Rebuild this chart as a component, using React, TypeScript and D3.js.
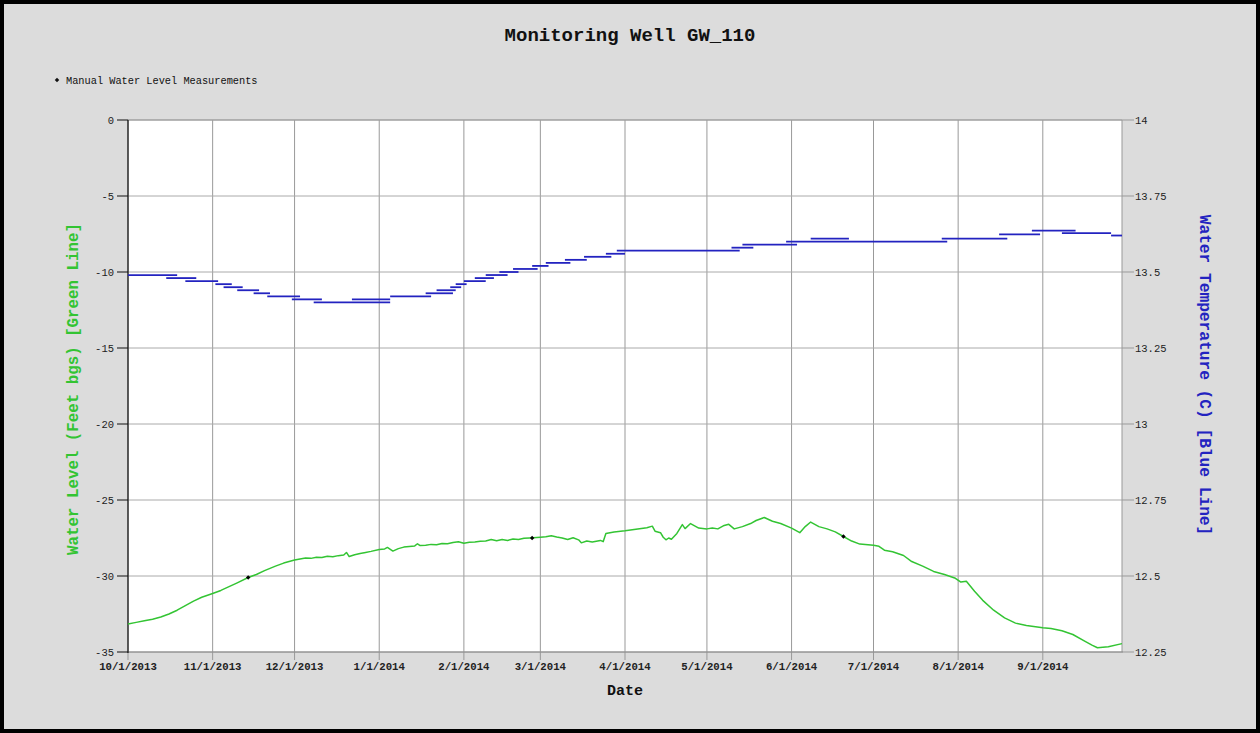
import React from "react";
import * as d3 from "d3";

const TITLE = "Monitoring Well GW_110";
const LEGEND_LABEL = "Manual Water Level Measurements";
const X_LABEL = "Date";
const Y_LEFT_LABEL = "Water Level (Feet bgs) [Green Line]";
const Y_RIGHT_LABEL = "Water Temperature (C) [Blue Line]";

const xTickDates = ["2013-10-01","2013-11-01","2013-12-01","2014-01-01","2014-02-01","2014-03-01","2014-04-01","2014-05-01","2014-06-01","2014-07-01","2014-08-01","2014-09-01"];
const leftTicks = [0, -5, -10, -15, -20, -25, -30, -35];
const rightTicks = [14, 13.75, 13.5, 13.25, 13, 12.75, 12.5, 12.25];

const levelDates = [
  "2013-10-01","2013-10-04","2013-10-07","2013-10-10","2013-10-13","2013-10-16","2013-10-19","2013-10-22","2013-10-25","2013-10-28",
  "2013-11-01","2013-11-04","2013-11-07","2013-11-10","2013-11-14","2013-11-17","2013-11-20","2013-11-24","2013-11-27",
  "2013-12-01","2013-12-03","2013-12-05","2013-12-07","2013-12-09","2013-12-11","2013-12-13","2013-12-15","2013-12-17","2013-12-19","2013-12-20","2013-12-21","2013-12-23","2013-12-25","2013-12-27","2013-12-29",
  "2014-01-01","2014-01-03","2014-01-04","2014-01-06","2014-01-08","2014-01-10","2014-01-12","2014-01-14","2014-01-15","2014-01-16","2014-01-18","2014-01-20","2014-01-22","2014-01-24","2014-01-26","2014-01-28","2014-01-30",
  "2014-02-01","2014-02-03","2014-02-05","2014-02-07","2014-02-09","2014-02-11","2014-02-13","2014-02-15","2014-02-17","2014-02-19","2014-02-21","2014-02-23","2014-02-25",
  "2014-03-01","2014-03-03","2014-03-05","2014-03-07","2014-03-09","2014-03-11","2014-03-13","2014-03-15","2014-03-16","2014-03-18","2014-03-20","2014-03-23","2014-03-24","2014-03-25","2014-03-28",
  "2014-04-01","2014-04-05","2014-04-09","2014-04-11","2014-04-12","2014-04-14","2014-04-15","2014-04-16","2014-04-17","2014-04-18","2014-04-20","2014-04-22","2014-04-23","2014-04-25","2014-04-28",
  "2014-05-01","2014-05-03","2014-05-05","2014-05-07","2014-05-09","2014-05-11","2014-05-14","2014-05-17","2014-05-19","2014-05-22","2014-05-25","2014-05-28",
  "2014-06-01","2014-06-04","2014-06-06","2014-06-08","2014-06-11","2014-06-14","2014-06-17","2014-06-20","2014-06-23","2014-06-26",
  "2014-07-01","2014-07-03","2014-07-05","2014-07-08","2014-07-12","2014-07-15","2014-07-19","2014-07-23","2014-07-27","2014-07-31",
  "2014-08-02","2014-08-04","2014-08-07","2014-08-10","2014-08-14","2014-08-18","2014-08-22","2014-08-26","2014-08-30",
  "2014-09-01","2014-09-04","2014-09-08","2014-09-12","2014-09-16","2014-09-19","2014-09-21","2014-09-25","2014-09-30"
];
const levelValues = [
  -33.16,-33.05,-32.95,-32.85,-32.7,-32.5,-32.25,-31.95,-31.65,-31.4,
  -31.15,-30.95,-30.7,-30.45,-30.1,-29.9,-29.65,-29.35,-29.15,
  -28.95,-28.88,-28.82,-28.84,-28.76,-28.78,-28.7,-28.74,-28.66,-28.62,-28.45,-28.72,-28.6,-28.52,-28.45,-28.38,
  -28.25,-28.22,-28.12,-28.36,-28.2,-28.1,-28.06,-28.02,-27.88,-28.0,-27.98,-27.92,-27.95,-27.86,-27.88,-27.8,-27.75,
  -27.85,-27.78,-27.76,-27.72,-27.7,-27.6,-27.68,-27.6,-27.66,-27.56,-27.6,-27.52,-27.5,
  -27.45,-27.42,-27.35,-27.44,-27.5,-27.6,-27.48,-27.62,-27.82,-27.7,-27.76,-27.66,-27.74,-27.2,-27.1,
  -27.02,-26.92,-26.82,-26.72,-27.05,-27.15,-27.45,-27.62,-27.5,-27.58,-27.2,-26.62,-26.88,-26.55,-26.85,
  -26.9,-26.84,-26.9,-26.7,-26.6,-26.9,-26.75,-26.55,-26.35,-26.15,-26.4,-26.55,
  -26.85,-27.15,-26.75,-26.45,-26.75,-26.9,-27.1,-27.4,-27.7,-27.9,
  -27.98,-28.05,-28.3,-28.4,-28.65,-29.05,-29.35,-29.7,-29.9,-30.15,
  -30.4,-30.35,-31.0,-31.6,-32.25,-32.75,-33.1,-33.25,-33.35,
  -33.4,-33.45,-33.6,-33.85,-34.25,-34.55,-34.72,-34.65,-34.45
];

const manualDates = ["2013-11-14","2014-02-26","2014-06-20"];
const manualValues = [-30.1, -27.5, -27.4];

const tempStart = [
  "2013-10-01","2013-10-15","2013-10-22","2013-11-02","2013-11-05","2013-11-10","2013-11-16","2013-11-21","2013-11-30","2013-12-08","2013-12-22",
  "2014-01-05","2014-01-18","2014-01-22","2014-01-27","2014-01-29","2014-02-01","2014-02-05","2014-02-09","2014-02-14","2014-02-19","2014-02-26",
  "2014-03-03","2014-03-10","2014-03-17","2014-03-25","2014-03-29","2014-05-10","2014-05-14","2014-05-30","2014-06-08","2014-07-26","2014-08-16","2014-08-28","2014-09-08","2014-09-26"
];
const tempEnd = [
  "2013-10-19","2013-10-26","2013-11-03","2013-11-08","2013-11-12","2013-11-18","2013-11-22","2013-12-03","2013-12-11","2014-01-05","2014-01-05",
  "2014-01-20","2014-01-28","2014-01-29","2014-01-31","2014-02-02","2014-02-09","2014-02-12","2014-02-17","2014-02-21","2014-02-28","2014-03-04",
  "2014-03-12","2014-03-18","2014-03-27","2014-04-01","2014-05-13","2014-05-18","2014-06-03","2014-07-28","2014-06-22","2014-08-19","2014-08-31","2014-09-13","2014-09-26","2014-09-30"
];
const tempValues = [
  13.49,13.48,13.47,13.46,13.45,13.44,13.43,13.42,13.41,13.40,13.41,
  13.42,13.43,13.44,13.45,13.46,13.47,13.48,13.49,13.50,13.51,13.52,
  13.53,13.54,13.55,13.56,13.57,13.58,13.59,13.60,13.61,13.61,13.624,13.636,13.628,13.62
];

const W = 1260, H = 733;
const PL = 128, PR = 1122, PT = 120, PB = 652;
const FONT = "'Liberation Mono', 'Courier New', monospace";
const GREEN = "#33c433";
const BLUE = "#2323c0";

export default function App() {
  const parse = d3.timeParse("%Y-%m-%d");
  const x = d3.scaleTime().domain([parse("2013-10-01")!, parse("2014-09-30")!]).range([PL, PR]);
  const yL = d3.scaleLinear().domain([-35, 0]).range([PB, PT]);
  const yR = d3.scaleLinear().domain([12.25, 14]).range([PB, PT]);
  const fmt = d3.timeFormat("%-m/%-d/%Y");

  const levelPts = levelDates.map((d, i) => [parse(d)!, levelValues[i]] as [Date, number]);
  const line = d3.line<[Date, number]>().x(d => x(d[0])).y(d => yL(d[1]));
  const marker = d3.symbol(d3.symbolSquare, 10)()!;

  return (
    <svg width={W} height={H} style={{ position: "absolute", left: 0, top: 0 }} fontFamily={FONT}>
      <rect x={2} y={2} width={W - 4} height={H - 4} fill="#dcdcdc" stroke="#000" strokeWidth={4} />
      <text x={630} y={41} textAnchor="middle" fontSize={19} fontWeight="bold" fill="#111">{TITLE}</text>
      <path d={marker} transform="translate(57,80) rotate(45)" fill="#111" />
      <text x={66} y={83.5} fontSize={10.3} fill="#111">{LEGEND_LABEL}</text>

      <rect x={PL} y={PT} width={PR - PL} height={PB - PT} fill="#fff" />
      {xTickDates.map(d => (
        <line key={"gx" + d} x1={x(parse(d)!)} x2={x(parse(d)!)} y1={PT} y2={PB + 8} stroke="#999" strokeWidth={1} />
      ))}
      {leftTicks.map(t => (
        <line key={"gy" + t} x1={PL} x2={PR} y1={yL(t)} y2={yL(t)} stroke="#aaa" strokeWidth={1} />
      ))}
      <line x1={PR} x2={PR} y1={PT} y2={PB} stroke="#999" />
      <line x1={PL} x2={PR} y1={PT} y2={PT} stroke="#999" />
      <line x1={PL} x2={PR + 1} y1={PB} y2={PB} stroke="#888" />
      <line x1={PL} x2={PL} y1={PT} y2={PB + 1} stroke="#111" strokeWidth={1.2} />

      {leftTicks.map(t => (
        <g key={"lt" + t}>
          <line x1={PL - 11} x2={PL} y1={yL(t)} y2={yL(t)} stroke="#111" />
          <text x={PL - 14} y={yL(t) + 3.5} textAnchor="end" fontSize={10.5} fill="#222">{t}</text>
        </g>
      ))}
      {rightTicks.map(t => (
        <g key={"rt" + t}>
          <line x1={PR} x2={PR + 12} y1={yR(t)} y2={yR(t)} stroke="#999" />
          <text x={PR + 13} y={yR(t) + 3.5} textAnchor="start" fontSize={10.5} fill="#222">{String(t)}</text>
        </g>
      ))}
      {xTickDates.map(d => (
        <text key={"xt" + d} x={x(parse(d)!)} y={670} textAnchor="middle" fontSize={10.7} fontWeight="bold" fill="#222">{fmt(parse(d)!)}</text>
      ))}
      <text x={625} y={695} textAnchor="middle" fontSize={15} fontWeight="bold" fill="#111">{X_LABEL}</text>
      <text transform="translate(78,389) rotate(-90)" textAnchor="middle" fontSize={15.8} fontWeight="bold" fill={GREEN}>{Y_LEFT_LABEL}</text>
      <text transform="translate(1200,375) rotate(90)" textAnchor="middle" fontSize={16.2} fontWeight="bold" fill={BLUE}>{Y_RIGHT_LABEL}</text>

      {tempValues.map((v, i) => (
        <line key={"ts" + i} x1={x(parse(tempStart[i])!)} x2={x(parse(tempEnd[i])!)} y1={yR(v)} y2={yR(v)} stroke={BLUE} strokeWidth={1.8} />
      ))}

      <path d={line(levelPts)!} fill="none" stroke={GREEN} strokeWidth={1.5} strokeLinejoin="round" />
      {manualDates.map((d, i) => (
        <path key={"m" + i} d={marker} transform={`translate(${x(parse(d)!)},${yL(manualValues[i])}) rotate(45)`} fill="#000" />
      ))}
    </svg>
  );
}
